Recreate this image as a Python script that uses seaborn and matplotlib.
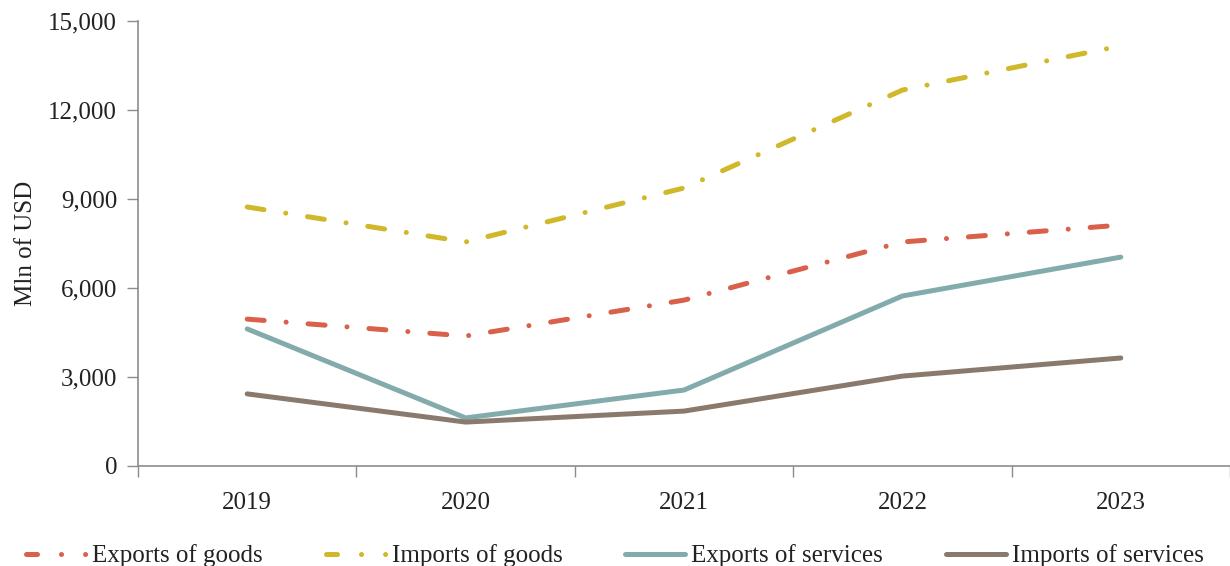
import matplotlib
matplotlib.use("Agg")
import matplotlib.pyplot as plt
from matplotlib.lines import Line2D
import seaborn as sns
import pandas as pd
from matplotlib.ticker import FuncFormatter, FixedLocator

years = ["2019", "2020", "2021", "2022", "2023"]
exports_goods = [4950, 4380, 5590, 7550, 8120]
imports_goods = [8730, 7550, 9370, 12670, 14160]
exports_services = [4620, 1620, 2560, 5730, 7040]
imports_services = [2430, 1480, 1850, 3030, 3640]

series_names = ["Exports of goods", "Imports of goods",
                "Exports of services", "Imports of services"]
series_values = [exports_goods, imports_goods, exports_services, imports_services]
colors = ["#D9604A", "#D0B82B", "#84ABAB", "#8A7A6E"]
dashdot = (0, (3.4, 4.4, 0.01, 4.4))
dashdot_key = (0, (2.2, 4.8, 0.01, 4.8, 0.01, 30))
styles = [dashdot, dashdot, "-", "-"]
key_styles = [dashdot_key, dashdot_key, "-", "-"]

sns.set_theme(style="white")
plt.rcParams["font.family"] = ["Liberation Serif", "DejaVu Serif"]

FS = 18
TXT = "#222222"
AXC = "#8c8c8c"
LW = 3.6

fig = plt.figure(figsize=(12.3, 5.66), dpi=100)
ax = fig.add_axes([0.1122, 0.1767, 0.8878, 0.7863])

for name, vals, col, ls in zip(series_names, series_values, colors, styles):
    df = pd.DataFrame({"x": range(len(years)), "y": vals})
    sns.lineplot(data=df, x="x", y="y", ax=ax, color=col, linewidth=LW,
                 linestyle=ls, legend=False,
                 dash_capstyle="round", solid_capstyle="round")

ax.set_xlim(-0.5, len(years) - 0.5)
ax.set_ylim(0, 15000)
ax.set_yticks(range(0, 15001, 3000))
ax.yaxis.set_major_formatter(FuncFormatter(lambda v, p: f"{int(v):,}"))

# category labels on minor ticks, separators on major ticks
ax.xaxis.set_major_locator(FixedLocator([i + 0.5 for i in range(-1, len(years))]))
ax.xaxis.set_minor_locator(FixedLocator(list(range(len(years)))))
ax.set_xticklabels([], minor=False)
ax.set_xticklabels(years, minor=True)
ax.tick_params(axis="x", which="major", length=8, width=1, color=AXC,
               direction="out", bottom=True)
ax.tick_params(axis="x", which="minor", length=0, pad=19, labelsize=FS,
               labelcolor=TXT)
ax.tick_params(axis="y", length=8, width=1, color=AXC, direction="out",
               left=True, labelsize=FS, labelcolor=TXT, pad=7)

ax.set_xlabel("")
ax.set_ylabel("Mln of USD", fontsize=FS, color=TXT, labelpad=8)

for s in ["top", "right"]:
    ax.spines[s].set_visible(False)
for s in ["left", "bottom"]:
    ax.spines[s].set_color(AXC)
    ax.spines[s].set_linewidth(1.2)
ax.grid(False)

# legend keys: dash followed by two dots for the goods series
handles = [Line2D([], [], color=c, linewidth=LW, linestyle=ks,
                  dash_capstyle="round", solid_capstyle="round")
           for c, ks in zip(colors, key_styles)]
fig.legend(handles, series_names, loc="lower center",
           bbox_to_anchor=(0.5, -0.042), ncol=4, frameon=False, fontsize=FS,
           handlelength=2.4, handletextpad=0.25, columnspacing=2.5,
           labelcolor=TXT)

fig.savefig("out.png", dpi=100)
